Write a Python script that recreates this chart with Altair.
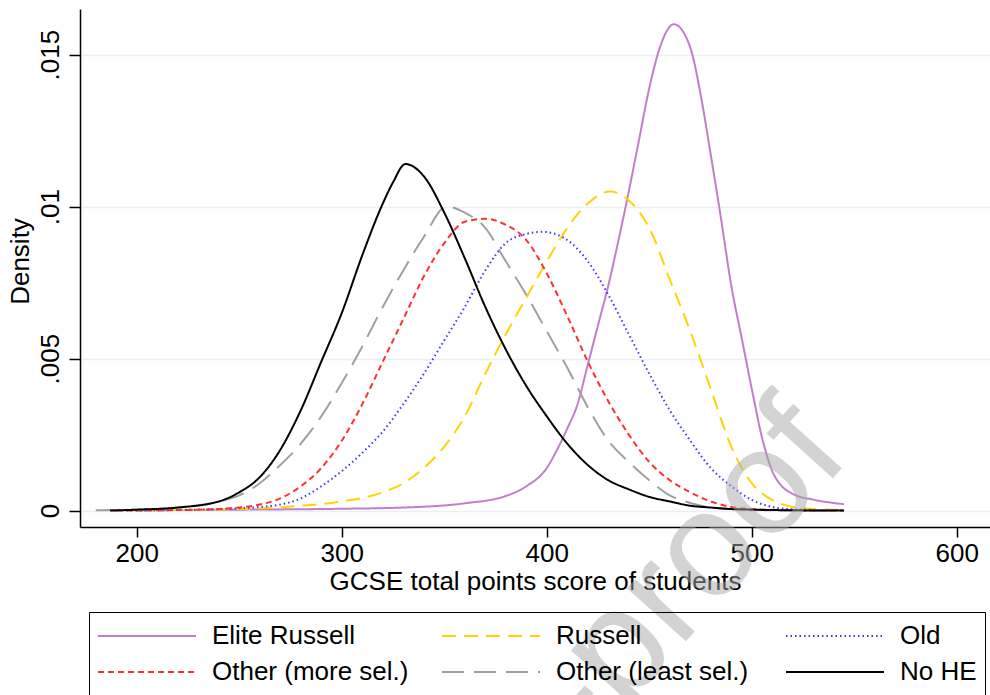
import altair as alt
import pandas as pd

series_names = ["Elite Russell", "Russell", "Old", "Other (more sel.)", "Other (least sel.)", "No HE"]
colors = ["#c07fc8", "#ffd400", "#3a3aff", "#ff3030", "#a0a0a0", "#000000"]
dashes = [[1, 0], [14, 8], [1.5, 3], [6, 4], [22, 10], [1, 0]]

# Elite Russell
elite_x = [200, 250, 300, 330, 360, 380, 390, 400, 405, 410, 415, 420, 425, 430, 435, 440, 445, 450, 455, 462,
           467, 471, 475, 480, 485, 490, 495, 500, 505, 510, 515, 520, 530, 540, 545]
elite_y = [0.00001, 0.00003, 0.00006, 0.0001, 0.00024, 0.00048, 0.0008, 0.0014, 0.0020, 0.0027, 0.0035, 0.0048,
           0.0061, 0.0074, 0.0089, 0.0105, 0.0122, 0.0139, 0.0152, 0.0160, 0.0157, 0.0150, 0.0137, 0.0117, 0.0096,
           0.0074, 0.0057, 0.0040, 0.0024, 0.0013, 0.00078, 0.00055, 0.00036, 0.00025, 0.00021]

# Russell
russell_x = [195, 250, 280, 300, 320, 330, 340, 350, 360, 370, 380, 390, 400, 410, 420, 431, 440, 450, 460, 470,
             480, 490, 500, 510, 520, 530, 545]
russell_y = [0.00001, 0.00005, 0.00016, 0.0003, 0.0006, 0.0009, 0.0014, 0.0021, 0.0031, 0.0045, 0.0058, 0.0070,
             0.0082, 0.0093, 0.0101, 0.0105, 0.0102, 0.0093, 0.0076, 0.0059, 0.0040, 0.0021, 0.0009, 0.00035,
             0.00012, 0.00005, 0.00002]

# Old
old_x = [195, 220, 240, 260, 270, 280, 290, 300, 310, 320, 330, 340, 350, 360, 370, 380, 390, 398, 410, 420,
         430, 440, 450, 460, 470, 480, 490, 500, 510, 520, 545]
old_y = [0.0, 0.00002, 0.00005, 0.00012, 0.0002, 0.0004, 0.0008, 0.0013, 0.0019, 0.0026, 0.0035, 0.0045, 0.0056,
         0.0067, 0.0079, 0.0088, 0.0091, 0.00917, 0.0089, 0.0082, 0.0071, 0.0058, 0.0045, 0.0033, 0.0023, 0.0014,
         0.0008, 0.00035, 0.00012, 0.00004, 0.00001]

# Other (more sel.)
more_x = [190, 230, 250, 260, 270, 280, 290, 300, 310, 320, 330, 340, 350, 360, 370, 380, 390, 400, 410, 420,
          430, 440, 450, 460, 470, 480, 490, 500, 520, 545]
more_y = [0.0, 0.00003, 0.0001, 0.0002, 0.0004, 0.0008, 0.0014, 0.0023, 0.0035, 0.0049, 0.0063, 0.0077, 0.0088,
          0.0095, 0.0096, 0.0094, 0.0089, 0.0078, 0.0064, 0.0049, 0.0036, 0.0025, 0.0016, 0.0010, 0.0006, 0.0003,
          0.00012, 0.00005, 0.00001, 0.0]

# Other (least sel.)
least_x = [180, 200, 220, 240, 250, 260, 270, 280, 290, 300, 310, 320, 330, 340, 351, 360, 370, 380, 390, 400,
           410, 420, 430, 440, 450, 460, 470, 480, 490, 500, 545]
least_y = [0.00001, 0.00003, 0.0001, 0.0003, 0.0005, 0.0009, 0.0015, 0.0022, 0.0031, 0.0042, 0.0054, 0.0067,
           0.0079, 0.0090, 0.0100, 0.0098, 0.0093, 0.0082, 0.0071, 0.0059, 0.0047, 0.0034, 0.0023, 0.0016, 0.0010,
           0.0005, 0.00025, 0.0001, 0.00005, 0.00002, 0.0]

# No HE
nohe_x = [187, 200, 220, 240, 250, 260, 270, 280, 290, 300, 310, 320, 325, 331, 340, 350, 360, 370, 380,
          390, 400, 410, 420, 430, 440, 450, 460, 470, 480, 490, 500, 520, 545]
nohe_y = [0.0, 0.00003, 0.0001, 0.0003, 0.0006, 0.0011, 0.0020, 0.0033, 0.0049, 0.0065, 0.0084, 0.0101, 0.0108,
          0.0114, 0.0110, 0.0098, 0.0083, 0.0067, 0.0053, 0.0041, 0.0031, 0.0022, 0.0015, 0.0010, 0.0007,
          0.00045, 0.0003, 0.00016, 0.0001, 0.00005, 0.00003, 0.00001, 0.0]

x_ticks = [200, 300, 400, 500, 600]
y_ticks = [0, 0.005, 0.01, 0.015]
watermark_text = ["Journal Pre-proof"]

series_data = [(elite_x, elite_y), (russell_x, russell_y), (old_x, old_y),
               (more_x, more_y), (least_x, least_y), (nohe_x, nohe_y)]
rows = []
for name, (xs, ys) in zip(series_names, series_data):
    for xv, yv in zip(xs, ys):
        rows.append({"series": name, "score": xv, "density": yv})
df = pd.DataFrame(rows)

FONT = "Liberation Sans"

legend_kw = dict(
    title=None, orient="none", legendX=9, legendY=603, columns=3, direction="horizontal",
    symbolType="stroke", symbolSize=9604, symbolStrokeWidth=2, labelFont=FONT, labelFontSize=26,
    labelColor="black", labelOffset=15, columnPadding=32, rowPadding=4, clipHeight=32,
    padding=8, strokeColor="black", gridAlign="all", labelLimit=400,
)

lines = alt.Chart(df).mark_line(strokeWidth=2, interpolate="monotone").encode(
    x=alt.X("score:Q",
            scale=alt.Scale(domain=[172.3, 616.2], nice=False, zero=False),
            axis=alt.Axis(values=x_ticks, format="d", title="GCSE total points score of students",
                          grid=False, tickSize=10, labelPadding=3, titleY=62, titleBaseline="alphabetic")),
    y=alt.Y("density:Q",
            scale=alt.Scale(domain=[-0.00054, 0.0165], nice=False, zero=False),
            axis=alt.Axis(values=y_ticks, title="Density",
                          labelExpr="datum.value == 0 ? '0' : replace(format(datum.value, '.3~f'), '0.', '.')",
                          labelAngle=270, labelAlign="center", labelBaseline="alphabetic",
                          tickSize=11, labelPadding=10.5, grid=True, gridColor="#e7f0f2", gridWidth=1.5,
                          titleAngle=270, titleX=-52, titleY=252, titleAlign="center",
                          titleBaseline="alphabetic")),
    color=alt.Color("series:N", sort=series_names,
                    scale=alt.Scale(domain=series_names, range=colors),
                    legend=alt.Legend(**legend_kw)),
    strokeDash=alt.StrokeDash("series:N", sort=series_names,
                              scale=alt.Scale(domain=series_names, range=dashes),
                              legend=alt.Legend(**legend_kw)),
)

wm = alt.Chart(pd.DataFrame({"t": watermark_text})).mark_text(
    font=FONT, fontSize=150, angle=312, align="right", baseline="alphabetic",
    color="#a8a8a8", opacity=0.5
).encode(text="t:N", x=alt.value(772), y=alt.value(448))

chart = alt.layer(lines, wm).properties(
    width=910, height=518,
    padding={"left": 80, "top": 9, "right": 0, "bottom": 168},
    autosize=alt.AutoSizeParams(type="none"),
).configure_view(stroke=None).configure_axis(
    labelFont=FONT, labelFontSize=26, labelColor="black",
    titleFont=FONT, titleFontSize=26, titleFontWeight="normal", titleColor="black",
    domainColor="black", domainWidth=1.5, tickColor="black", tickWidth=1.5,
)

chart.save("out.html", embed_options={"renderer": "svg", "actions": False})
